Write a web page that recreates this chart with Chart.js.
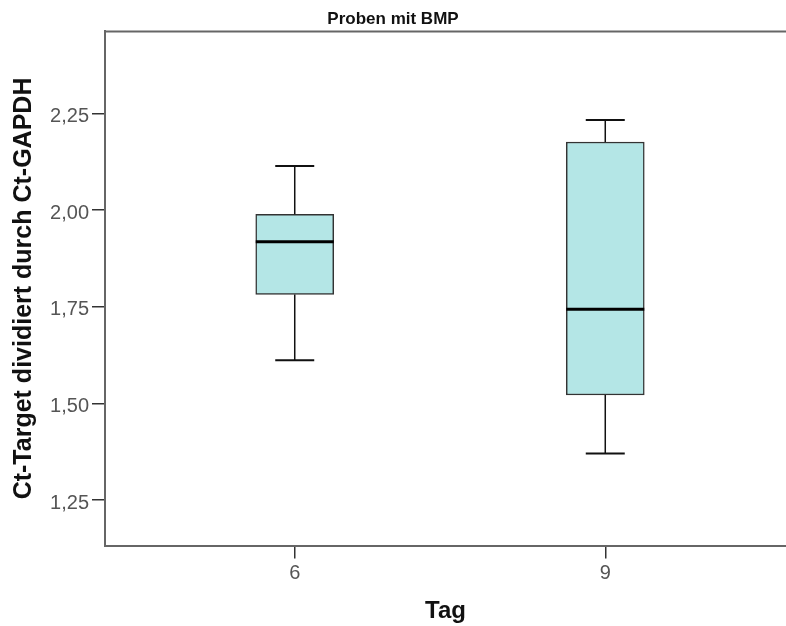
<!DOCTYPE html>
<html>
<head>
<meta charset="utf-8">
<script src="https://cdn.jsdelivr.net/npm/chart.js@4.4.1/dist/chart.umd.min.js"></script>
<style>
  html, body { margin: 0; padding: 0; background: #fff; }
  #wrap { width: 786px; height: 626px; }
</style>
</head>
<body>
<div id="wrap"><canvas id="chart"></canvas></div>
<script>
// Boxplot values
const days = ['6', '9'];
const dayPos = [1, 2];
const whiskerLow = [1.612, 1.371];
const q1 = [1.782, 1.522];
const median = [1.918, 1.744];
const q3 = [1.989, 2.176];
const whiskerHigh = [2.114, 2.233];
const yTicks = [1.25, 1.5, 1.75, 2.0, 2.25];

const FONT = "Arial, 'Liberation Sans', sans-serif";
const BOX_W = 78;

// whiskers, caps, median and the top frame line
const boxPlugin = {
  id: 'boxExtras',
  afterDatasetsDraw(chart) {
    const { ctx, chartArea } = chart;
    const xs = chart.scales.x;
    const ys = chart.scales.y;
    ctx.save();
    dayPos.forEach((p, i) => {
      const cx = xs.getPixelForValue(p);
      const yLo = ys.getPixelForValue(whiskerLow[i]);
      const yQ1 = ys.getPixelForValue(q1[i]);
      const yQ3 = ys.getPixelForValue(q3[i]);
      const yHi = ys.getPixelForValue(whiskerHigh[i]);
      const yMed = ys.getPixelForValue(median[i]);

      ctx.strokeStyle = '#111';
      ctx.lineWidth = 1.5;
      ctx.beginPath();
      ctx.moveTo(cx, yQ3); ctx.lineTo(cx, yHi);
      ctx.moveTo(cx, yQ1); ctx.lineTo(cx, yLo);
      ctx.stroke();

      ctx.lineWidth = 2;
      ctx.beginPath();
      ctx.moveTo(cx - BOX_W / 4, yHi); ctx.lineTo(cx + BOX_W / 4, yHi);
      ctx.moveTo(cx - BOX_W / 4, yLo); ctx.lineTo(cx + BOX_W / 4, yLo);
      ctx.stroke();

      ctx.strokeStyle = '#000';
      ctx.lineWidth = 3;
      ctx.beginPath();
      ctx.moveTo(cx - BOX_W / 2, yMed); ctx.lineTo(cx + BOX_W / 2, yMed);
      ctx.stroke();
    });

    ctx.strokeStyle = '#666';
    ctx.lineWidth = 2;
    ctx.beginPath();
    ctx.moveTo(chartArea.left, chartArea.top);
    ctx.lineTo(chartArea.right, chartArea.top);
    ctx.stroke();
    ctx.restore();
  }
};

new Chart(document.getElementById('chart'), {
  type: 'bar',
  data: {
    datasets: [{
      data: dayPos.map((p, i) => ({ x: p, y: [q1[i], q3[i]] })),
      backgroundColor: '#b4e6e6',
      borderColor: '#333',
      borderWidth: 1.5,
      borderSkipped: false,
      barThickness: BOX_W
    }]
  },
  options: {
    responsive: true,
    maintainAspectRatio: false,
    animation: false,
    layout: { padding: 0 },
    plugins: {
      legend: { display: false },
      tooltip: { enabled: false },
      title: {
        display: true,
        text: 'Proben mit BMP',
        color: '#111',
        font: { family: FONT, size: 17, weight: 'bold' },
        padding: { top: 9, bottom: 2 }
      }
    },
    scales: {
      x: {
        type: 'linear',
        offset: false,
        min: 0.389,
        max: 2.582,
        afterBuildTicks: (s) => { s.ticks = dayPos.map(v => ({ value: v })); },
        afterFit: (s) => { s.height = 80.5; },
        grid: { offset: false, drawOnChartArea: false, tickLength: 13, color: '#333', lineWidth: 1.5 },
        border: { color: '#666', width: 2 },
        ticks: {
          padding: 3,
          color: '#555',
          font: { family: FONT, size: 20 },
          callback: (v) => days[dayPos.indexOf(v)]
        },
        title: {
          display: true,
          text: 'Tag',
          color: '#111',
          font: { family: FONT, size: 24, weight: 'bold' },
          padding: { top: 0, bottom: 0 }
        }
      },
      y: {
        min: 1.133,
        max: 2.462,
        afterBuildTicks: (s) => { s.ticks = yTicks.map(v => ({ value: v })); },
        afterFit: (s) => { s.width = 105; },
        grid: { drawOnChartArea: false, tickLength: 13, color: '#333', lineWidth: 1.5 },
        border: { color: '#666', width: 2 },
        ticks: {
          padding: 3,
          labelOffset: 3,
          color: '#555',
          font: { family: FONT, size: 20 },
          callback: (v) => v.toFixed(2).replace('.', ',')
        },
        title: {
          display: true,
          text: 'Ct-Target dividiert durch Ct-GAPDH',
          color: '#111',
          font: { family: FONT, size: 25, weight: 'bold' },
          padding: { top: 9, bottom: 0 }
        }
      }
    }
  },
  plugins: [boxPlugin]
});
</script>
</body>
</html>
